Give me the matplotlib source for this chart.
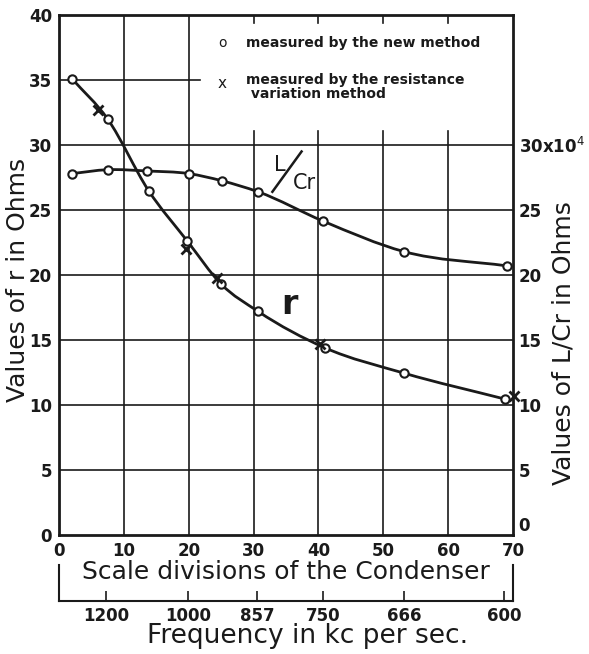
import matplotlib
matplotlib.use('Agg')
import matplotlib.pyplot as plt
from matplotlib.path import Path
from matplotlib.patches import PathPatch
from matplotlib.transforms import blended_transform_factory

# r measured by the new method (scale divisions, ohms)
x_r = [2.0, 7.5, 13.8, 19.8, 25.0, 30.7, 41.0, 53.2, 68.8]
r_vals = [35.1, 32.0, 26.5, 22.6, 19.3, 17.2, 14.4, 12.45, 10.45]

# L/Cr measured by the new method (x10^4 ohms)
x_lcr = [2.0, 7.5, 13.6, 20.0, 25.1, 30.7, 40.7, 53.2, 69.1]
lcr_vals = [27.8, 28.1, 28.0, 27.8, 27.25, 26.4, 24.15, 21.8, 20.7]

# r measured by the resistance variation method
x_cross = [6.0, 19.6, 24.4, 40.3, 70.2]
r_cross = [32.7, 22.0, 19.8, 14.7, 10.7]

x_ticks = [0, 10, 20, 30, 40, 50, 60, 70]
left_ticks = [0, 5, 10, 15, 20, 25, 30, 35, 40]
right_ticks = [0, 5, 10, 15, 20, 25, 30]
right_labels = ['0', '5', '10', '15', '20', '25', '30x10$^4$']

freq_pos = [7.3, 19.9, 30.5, 40.7, 53.2, 68.6]
freq_labels = ['1200', '1000', '857', '750', '666', '600']

INK = '#1a1a1a'


def smooth_path(xs, ys):
    # hermite curve through the points, slopes from neighbouring chords,
    # handed to matplotlib as cubic bezier segments
    n = len(xs)
    h = [xs[i + 1] - xs[i] for i in range(n - 1)]
    d = [(ys[i + 1] - ys[i]) / h[i] for i in range(n - 1)]
    m = [d[0]]
    for i in range(1, n - 1):
        m.append((d[i - 1] * h[i] + d[i] * h[i - 1]) / (h[i - 1] + h[i]))
    m.append(d[-1])
    verts = [(xs[0], ys[0])]
    codes = [Path.MOVETO]
    for i in range(n - 1):
        verts += [(xs[i] + h[i] / 3, ys[i] + m[i] * h[i] / 3),
                  (xs[i + 1] - h[i] / 3, ys[i + 1] - m[i + 1] * h[i] / 3),
                  (xs[i + 1], ys[i + 1])]
        codes += [Path.CURVE4] * 3
    return Path(verts, codes)


fig = plt.figure(figsize=(5.89, 6.54), dpi=100)
ax = fig.add_axes([59 / 589, 1 - 535 / 654, 454 / 589, 520 / 654])
ax.set_xlim(0, 70)
ax.set_ylim(0, 40)

# grid: full lines on the left, broken under the legend on the right
for x in [10, 20]:
    ax.axvline(x, color=INK, lw=1.2, zorder=1)
for x in [30, 40, 50, 60]:
    ax.plot([x, x], [0, 31.1], color=INK, lw=1.2, zorder=1)
    ax.plot([x, x], [39.4, 40], color=INK, lw=1.2, zorder=1)
for y in [5, 10, 15, 20, 25, 30]:
    ax.axhline(y, color=INK, lw=1.2, zorder=1)
ax.plot([0, 21.8], [35, 35], color=INK, lw=1.2, zorder=1)

ax.add_patch(PathPatch(smooth_path(x_r, r_vals), fill=False, ec=INK, lw=2, zorder=3))
ax.add_patch(PathPatch(smooth_path(x_lcr, lcr_vals), fill=False, ec=INK, lw=2, zorder=3))
ax.plot(x_r, r_vals, 'o', ms=6, mfc='white', mec=INK, mew=1.5, zorder=4)
ax.plot(x_lcr, lcr_vals, 'o', ms=6, mfc='white', mec=INK, mew=1.5, zorder=4)
ax.plot(x_cross, r_cross, 'x', ms=6.5, mec=INK, mew=2, zorder=5, clip_on=False)

for s in ax.spines.values():
    s.set_linewidth(2)
    s.set_color(INK)

ax.set_xticks(x_ticks)
ax.set_yticks(left_ticks)
ax.tick_params(length=0, labelsize=12, pad=5, colors=INK)
for lab in ax.get_xticklabels() + ax.get_yticklabels():
    lab.set_fontweight('bold')
ax.set_ylabel('Values of r in Ohms', fontsize=18, color=INK)
ax.yaxis.set_label_coords(-0.064, 0.49)
ax.set_xlabel('Scale divisions of the Condenser', fontsize=18, labelpad=0, color=INK)

ax2 = ax.twinx()
ax2.set_ylim(0, 40)
ax2.set_yticks(right_ticks, right_labels)
ax2.tick_params(length=0, labelsize=12, pad=4, colors=INK)
for lab in ax2.get_yticklabels():
    lab.set_fontweight('bold')
ax2.get_yticklabels()[0].set_va('bottom')
ax2.set_ylabel('Values of L/Cr in Ohms', fontsize=18, color=INK)
ax2.yaxis.set_label_coords(1.085, 0.37)
for s in ax2.spines.values():
    s.set_visible(False)

# legend written straight onto the grid
ax.text(0.36, 0.946, 'o', transform=ax.transAxes, fontsize=10, ha='center', va='center', color=INK)
ax.text(0.36, 0.869, 'x', transform=ax.transAxes, fontsize=11, ha='center', va='center', color=INK)
ax.text(0.412, 0.946, 'measured by the new method', transform=ax.transAxes,
        fontsize=10, fontweight='bold', va='center', color=INK)
ax.text(0.412, 0.888, 'measured by the resistance\n variation method', transform=ax.transAxes,
        fontsize=10, fontweight='bold', va='top', linespacing=1.0, color=INK)

# curve names
ax.text(34.0, 28.5, 'L', fontsize=15, ha='center', va='center', color=INK)
ax.plot([32.9, 37.4], [26.4, 29.5], color=INK, lw=1.8)
ax.text(37.9, 27.1, 'Cr', fontsize=15, ha='center', va='center', color=INK)
ax.text(35.6, 17.7, 'r', fontsize=24, fontweight='bold', ha='center', va='center', color=INK)

# frequency scale under the condenser scale
sec = ax.secondary_xaxis(-0.127)
sec.set_xticks(freq_pos, freq_labels)
sec.tick_params(direction='in', length=7, width=1.2, labelsize=12, pad=4, colors=INK)
for lab in sec.get_xticklabels():
    lab.set_fontweight('bold')
sec.spines['bottom'].set_linewidth(1.5)
sec.spines['bottom'].set_color(INK)
trans = blended_transform_factory(ax.transData, ax.transAxes)
for x in [0, 70]:
    ax.plot([x, x], [-0.058, -0.127], transform=trans, color=INK, lw=1.5, clip_on=False)
fig.text(308 / 589, 1 - 636 / 654, 'Frequency in kc per sec.', fontsize=19,
         ha='center', va='center', color=INK)

fig.savefig('out.png', dpi=100, facecolor='white')
